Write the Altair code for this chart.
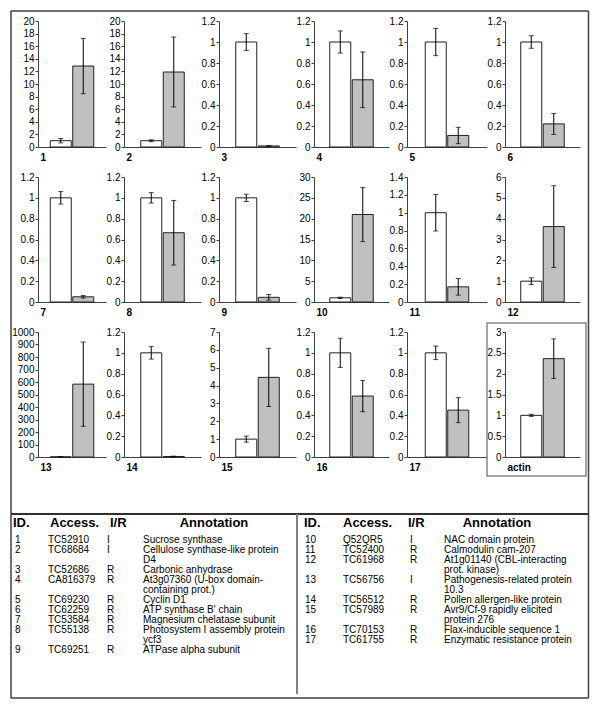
import altair as alt
import pandas as pd

# ---------------- data ----------------
panel_labels = ["1", "2", "3", "4", "5", "6", "7", "8", "9", "10", "11", "12",
                "13", "14", "15", "16", "17", "actin"]
axis_max = [20, 20, 1.2, 1.2, 1.2, 1.2, 1.2, 1.2, 1.2, 30, 1.4, 6,
            1000, 1.2, 7, 1.2, 1.2, 3]
axis_step = [2, 2, 0.2, 0.2, 0.2, 0.2, 0.2, 0.2, 0.2, 5, 0.2, 1,
             100, 0.2, 1, 0.2, 0.2, 0.5]
control_mean = [1.0] * 18
control_err = [0.35, 0.15, 0.08, 0.105, 0.13, 0.06, 0.06, 0.05, 0.035, 0.15, 0.205, 0.16,
               1.0, 0.06, 0.17, 0.14, 0.065, 0.025]
treated_mean = [12.85, 11.9, 0.01, 0.64, 0.11, 0.22, 0.05, 0.665, 0.045, 21.0, 0.17, 3.62,
                583, 0.005, 4.46, 0.585, 0.45, 2.36]
treated_err = [4.4, 5.55, 0.004, 0.265, 0.078, 0.1, 0.012, 0.31, 0.027, 6.5, 0.093, 1.96,
               337, 0.003, 1.63, 0.15, 0.12, 0.475]

table_id = [str(i) for i in range(1, 18)]
table_access = ["TC52910", "TC68684", "TC52686", "CA816379", "TC69230", "TC62259",
                "TC53584", "TC55138", "TC69251", "Q52QR5", "TC52400", "TC61968",
                "TC56756", "TC56512", "TC57989", "TC70153", "TC61755"]
table_ir = ["I", "I", "R", "R", "R", "R", "R", "R", "R", "I", "R", "R", "I", "R", "R", "R", "R"]
table_annotation = [
    "Sucrose synthase",
    "Cellulose synthase-like protein\nD4",
    "Carbonic anhydrase",
    "At3g07360 (U-box domain-\ncontaining prot.)",
    "Cyclin D1",
    "ATP synthase B' chain",
    "Magnesium chelatase subunit",
    "Photosystem I assembly protein\nycf3",
    "ATPase alpha subunit",
    "NAC domain protein",
    "Calmodulin cam-207",
    "At1g01140 (CBL-interacting\nprot. kinase)",
    "Pathogenesis-related protein\n10.3",
    "Pollen allergen-like protein",
    "Avr9/Cf-9 rapidly elicited\nprotein 276",
    "Flax-inducible sequence 1",
    "Enzymatic resistance protein",
]
header_labels = ["ID.", "Access.", "I/R", "Annotation"]

# ---------------- layout / style ----------------
FONT = "Liberation Sans"
AXC = "#404040"
col_widths = [68, 77, 77, 75, 80, 75]
row_heights = [126, 125, 125]
BAR = 21
STEP = 22.5
PI = 1 - BAR / STEP
conds = ["control", "treated"]


def panel(i):
    col, row = i % 6, i // 6
    w, h = col_widths[col], row_heights[row]
    df = pd.DataFrame({
        "cond": conds,
        "mean": [control_mean[i], treated_mean[i]],
        "lo": [control_mean[i] - control_err[i], treated_mean[i] - treated_err[i]],
        "hi": [control_mean[i] + control_err[i], treated_mean[i] + treated_err[i]],
    })
    po = (w / STEP - (2 - PI)) / 2
    n = int(round(axis_max[i] / axis_step[i]))
    ticks = [round(k * axis_step[i], 6) for k in range(n + 1)]
    xscale = alt.Scale(domain=conds, paddingInner=PI, paddingOuter=po)
    yscale = alt.Scale(domain=[0, axis_max[i]], nice=False, zero=True)
    xaxis = alt.Axis(labels=False, ticks=False, grid=False, domainColor=AXC, domainWidth=1,
                     title=panel_labels[i], titleFont=FONT, titleFontSize=10,
                     titleFontWeight="bold", titleColor="black", titleAlign="left",
                     titleAnchor="start", titleX=2, titleY=5, titleBaseline="top")
    yaxis = alt.Axis(values=ticks, format=".1~f", title=None, grid=False, tickSize=3,
                     tickColor=AXC, domainColor=AXC, labelFont=FONT, labelFontSize=10,
                     labelColor="black", labelPadding=1, labelOverlap=False)
    base = alt.Chart(df)
    bars = base.mark_bar(stroke="#202020", strokeWidth=1).encode(
        x=alt.X("cond:N", scale=xscale, axis=xaxis),
        y=alt.Y("mean:Q", scale=yscale, axis=yaxis),
        fill=alt.Fill("cond:N", scale=alt.Scale(domain=conds, range=["#ffffff", "#c0c0c0"]),
                      legend=None),
    )
    err = base.mark_errorbar(ticks=True, size=5, thickness=1, color="black").encode(
        x=alt.X("cond:N", scale=xscale, axis=xaxis),
        y=alt.Y("lo:Q", scale=yscale, axis=yaxis),
        y2="hi:Q",
    )
    layers = [bars, err]
    if panel_labels[i] == "actin":
        box = alt.Chart(pd.DataFrame({"k": [0]})).mark_rect(
            fill="transparent", stroke="#888888", strokeWidth=1.5).encode(
            x=alt.value(-18), x2=alt.value(81), y=alt.value(-9), y2=alt.value(144))
        layers.append(box)
    return alt.layer(*layers).properties(width=w, height=h)


# ---------------- table ----------------
def line_starts(annots):
    starts, cur = [], 0
    for a in annots:
        starts.append(cur)
        cur += a.count("\n") + 1
    return starts


left_n = 9
tdf = pd.DataFrame({
    "id": table_id, "access": table_access, "ir": table_ir, "annot": table_annotation,
})
tdf["line"] = line_starts(table_annotation[:left_n]) + line_starts(table_annotation[left_n:])
tdf["half"] = ["L"] * left_n + ["R"] * (len(table_id) - left_n)

T_H = 211
tyscale = alt.Scale(domain=[-4.8, 16.3], reverse=True, nice=False, zero=False)
one = pd.DataFrame({"k": [0]})

col_x = {"L": [-23, 10, 69, 105], "R": [267, 305, 372, 406]}
head_x = {"L": [-25, 12, 72, 176], "R": [266, 305, 370, 459]}
fields = ["id", "access", "ir", "annot"]

tlayers = []
for half in ["L", "R"]:
    sub = alt.Chart(tdf).transform_filter(alt.datum.half == half)
    for f, xv in zip(fields, col_x[half]):
        tlayers.append(sub.mark_text(align="left", baseline="top", font=FONT, fontSize=10,
                                     lineBreak="\n", lineHeight=10, color="black").encode(
            x=alt.value(xv), y=alt.Y("line:Q", scale=tyscale, axis=None), text=f"{f}:N"))
    for lab, xv in zip(header_labels, head_x[half]):
        tlayers.append(alt.Chart(one).mark_text(
            align="center" if lab == "Annotation" else "left", baseline="middle", font=FONT,
            fontSize=13, fontWeight="bold", color="black", text=lab).encode(
            x=alt.value(xv), y=alt.value(36)))

L, R, TOP, BOT = -27, 550.5, -476, T_H
border = dict(color="#404040", strokeWidth=1.5)
tlayers += [
    alt.Chart(one).mark_rule(**border).encode(x=alt.value(L), y=alt.value(TOP), y2=alt.value(BOT)),
    alt.Chart(one).mark_rule(**border).encode(x=alt.value(R), y=alt.value(TOP), y2=alt.value(BOT)),
    alt.Chart(one).mark_rule(**border).encode(x=alt.value(L), x2=alt.value(R), y=alt.value(TOP)),
    alt.Chart(one).mark_rule(**border).encode(x=alt.value(L), x2=alt.value(R), y=alt.value(BOT)),
    alt.Chart(one).mark_rule(color="#303030", strokeWidth=2).encode(
        x=alt.value(L), x2=alt.value(R), y=alt.value(27)),
    alt.Chart(one).mark_rule(color="#808080", strokeWidth=2).encode(
        x=alt.value(259), y=alt.value(27), y2=alt.value(207)),
]
table = alt.layer(*tlayers).properties(width=col_widths[0], height=T_H)

charts = [panel(i) for i in range(18)] + [table]
chart = alt.concat(*charts, columns=6, spacing={"row": 30, "column": 18},
                   bounds="flush", align="each").properties(
    padding={"left": 2, "top": 2, "right": 0, "bottom": 0}
).configure_view(strokeWidth=0)

chart.save("out.html", embed_options={"renderer": "svg", "actions": False})
